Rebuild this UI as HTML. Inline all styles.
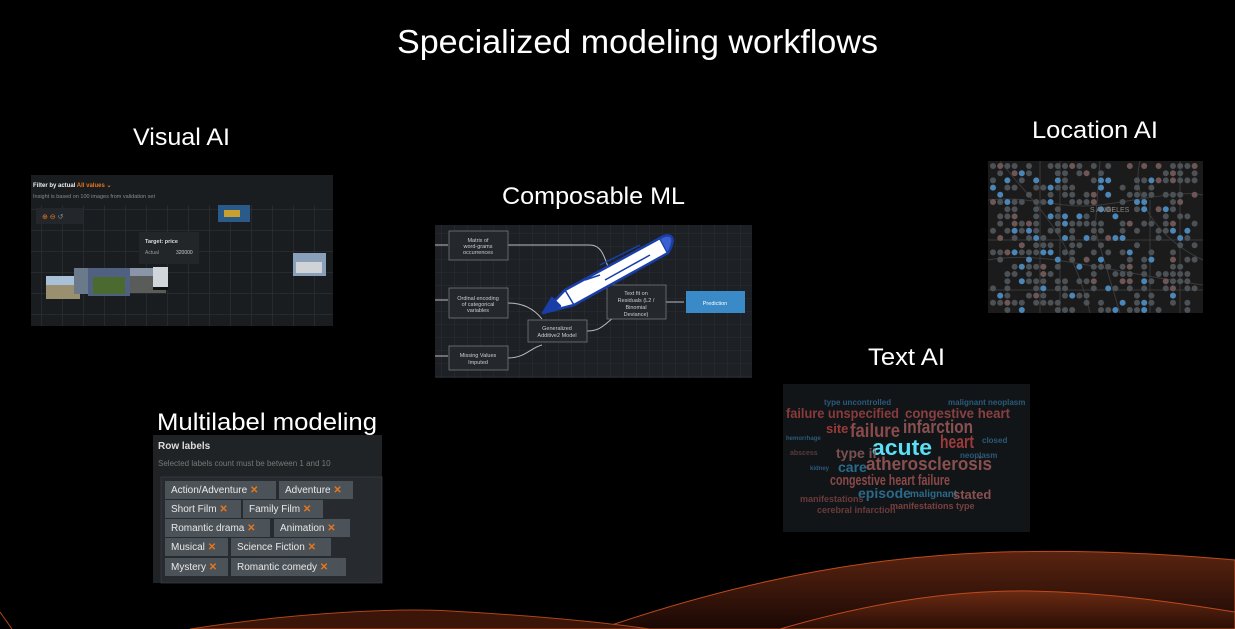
<!DOCTYPE html>
<html><head><meta charset="utf-8"><style>
html,body{margin:0;padding:0;background:#000;width:1235px;height:629px;overflow:hidden}
svg{display:block}
text{font-family:"Liberation Sans",sans-serif}
</style></head><body>
<svg id="s" width="1235" height="629" viewBox="0 0 1235 629" xmlns="http://www.w3.org/2000/svg">
<defs>
<pattern id="g1" width="21" height="21" patternUnits="userSpaceOnUse"><path d="M21 0V21M0 21H21" stroke="#33383d" stroke-width="1" fill="none"/></pattern>
<pattern id="g2" width="13" height="13" patternUnits="userSpaceOnUse"><path d="M13 0V13M0 13H13" stroke="#2c3136" stroke-width="1" fill="none"/></pattern>
<linearGradient id="w1" x1="0" y1="0" x2="0" y2="1"><stop offset="0" stop-color="#5a2410"/><stop offset="1" stop-color="#1a0804"/></linearGradient>
<linearGradient id="w2" x1="0" y1="0" x2="0" y2="1"><stop offset="0" stop-color="#6a2a12"/><stop offset="1" stop-color="#2a0e06"/></linearGradient>
</defs>
<rect width="1235" height="629" fill="#000"/>
<path d="M600 629 C800 560 950 548 1100 552 C1170 554 1210 558 1235 560 V629Z" fill="url(#w1)" stroke="#c04a1c" stroke-width="1"/>
<path d="M780 629 C880 600 960 590 1030 591 C1120 593 1190 605 1235 612 V629Z" fill="url(#w2)" stroke="#c04a1c" stroke-width="1"/>
<path d="M190 629 C300 612 400 608 450 611 C540 616 600 622 650 629Z" fill="#3a1508" stroke="#b0441a" stroke-width="1"/>
<path d="M0 612 L12 629" stroke="#b0441a"/>

<text x="397" y="53" font-size="33" fill="#fff" textLength="481" lengthAdjust="spacingAndGlyphs">Specialized modeling workflows</text>
<text x="133" y="145" font-size="24" fill="#fff" textLength="97" lengthAdjust="spacingAndGlyphs">Visual AI</text>
<text x="502" y="204" font-size="24" fill="#fff" textLength="183" lengthAdjust="spacingAndGlyphs">Composable ML</text>
<text x="1032" y="138" font-size="24" fill="#fff" textLength="126" lengthAdjust="spacingAndGlyphs">Location AI</text>
<text x="868" y="365" font-size="24" fill="#fff" textLength="77" lengthAdjust="spacingAndGlyphs">Text AI</text>

<rect x="31" y="175" width="302" height="151" fill="#1a1d20"/>
<rect x="31" y="205" width="302" height="121" fill="url(#g1)"/>
<text x="33" y="187" font-size="6" font-weight="bold" fill="#eee">Filter by actual <tspan fill="#e8761e">All values ⌄</tspan></text>
<text x="33" y="198" font-size="5.5" fill="#888">Insight is based on 100 images from validation set</text>
<rect x="36" y="208" width="47" height="16" fill="#23272b"/>
<text x="42" y="219" font-size="7" fill="#e8761e">⊕ ⊖ <tspan fill="#888">↺</tspan></text>
<rect x="218" y="205" width="32" height="17" fill="#2a5a8a"/><rect x="224" y="210" width="16" height="7" fill="#c8a030"/>
<rect x="139" y="232" width="60" height="32" fill="#222629"/>
<text x="145" y="243" font-size="5.5" font-weight="bold" fill="#ddd">Target: price</text>
<text x="145" y="254" font-size="5" fill="#999">Actual</text><text x="176" y="254" font-size="5" fill="#ccc">320000</text>
<rect x="293" y="253" width="33" height="23" fill="#8aa0b8"/><rect x="296" y="262" width="26" height="11" fill="#cfd3d6"/>
<rect x="46" y="276" width="34" height="23" fill="#9a9070"/><rect x="46" y="276" width="34" height="9" fill="#a8c0d8"/>
<rect x="74" y="268" width="38" height="26" fill="#6a7a8a"/>
<rect x="88" y="268" width="42" height="28" fill="#506080"/><rect x="93" y="277" width="32" height="17" fill="#4a6a30"/>
<rect x="130" y="268" width="36" height="25" fill="#5a5c5a"/><rect x="130" y="268" width="36" height="8" fill="#8a96a8"/>
<rect x="153" y="267" width="15" height="23" fill="#d0d6da"/>
<rect x="153" y="287" width="15" height="3" fill="#111"/>

<rect x="435" y="225" width="317" height="153" fill="#1d2024"/>
<rect x="435" y="225" width="317" height="153" fill="url(#g2)"/>
<g stroke="#bbb" stroke-width="1" fill="none">
<path d="M435 245H448M435 300H448M435 356H448"/>
<path d="M508 245H590C605 245 605 265 612 275"/>
<path d="M508 303C525 303 535 310 542 319"/>
<path d="M508 358C525 358 530 348 542 345"/>
<path d="M587 331C600 331 604 325 613 318"/>
<path d="M666 302H684"/>
</g>
<g fill="#24282c" stroke="#777" stroke-width="0.8">
<rect x="449" y="231" width="59" height="29"/>
<rect x="449" y="288" width="59" height="30"/>
<rect x="449" y="346" width="59" height="24"/>
<rect x="528" y="320" width="59" height="22"/>
<rect x="607" y="285" width="59" height="34"/>
</g>
<rect x="686" y="291" width="59" height="22" fill="#3a8ac8"/>
<g font-size="5.5" fill="#ccc" text-anchor="middle">
<text x="478" y="242">Matrix of</text><text x="478" y="248">word-grams</text><text x="478" y="254">occurrences</text>
<text x="478" y="300">Ordinal encoding</text><text x="478" y="306">of categorical</text><text x="478" y="312">variables</text>
<text x="478" y="357">Missing Values</text><text x="478" y="364">Imputed</text>
<text x="557" y="330">Generalized</text><text x="557" y="337">Additive2 Model</text>
<text x="636" y="295">Text fit on</text><text x="636" y="302">Residuals (L2 /</text><text x="636" y="309">Binomial</text><text x="636" y="316">Deviance)</text>
<text x="715" y="305" fill="#fff">Prediction</text>
</g>
<g stroke="#1a3ea8" stroke-width="2.5" stroke-linejoin="round">
<path d="M543 313 L565 290 L660 238 L668 253 L574 305 Z" fill="#fff"/>
<path d="M660 238 C670 232 678 236 668 253" fill="#3a60d0"/>
<path d="M565 290 L574 305 M585 280 L600 275 M600 265 L640 245 M605 280 L650 255" fill="none" stroke-width="1.5"/>
<path d="M543 313 L552 298 L560 306Z" fill="#1a3ea8"/>
</g>

<rect x="988" y="161" width="215" height="152" fill="#1b1b1b"/>
<g stroke="#3a3a3a" stroke-width="1" fill="none">
<path d="M988 200 C1030 195 1060 210 1100 205 S1180 190 1203 195"/>
<path d="M1000 161 C1030 200 1070 230 1090 313"/>
<path d="M1100 161 L1095 230 L1120 313"/>
<path d="M1140 161 C1130 200 1160 240 1203 260"/>
<path d="M988 260 C1040 250 1100 270 1203 285"/>
<path d="M1040 161 V313 M1060 161 V313 M1150 200 V313 M1180 161 V313 M988 240 H1203 M988 290 H1203"/>
</g>
<g id="dots"></g>
<text x="1090" y="212" font-size="7" fill="#888">S ANGELES</text>

<rect x="783" y="384" width="247" height="148" fill="#121518"/>
<g font-family="'Liberation Sans Narrow','Liberation Sans',sans-serif" font-weight="bold">
<text x="786" y="418" font-size="14" fill="#8a3a3a" textLength="113" lengthAdjust="spacingAndGlyphs">failure unspecified</text>
<text x="905" y="418" font-size="14" fill="#8a4040" textLength="105" lengthAdjust="spacingAndGlyphs">congestive heart</text>
<text x="826" y="433" font-size="13" fill="#9a3a3a">site</text>
<text x="850" y="437" font-size="19" fill="#8a4a4a" textLength="50" lengthAdjust="spacingAndGlyphs">failure</text>
<text x="903" y="433" font-size="18" fill="#8a5050" textLength="70" lengthAdjust="spacingAndGlyphs">infarction</text>
<text x="940" y="448" font-size="18" fill="#9a3a3a" textLength="34" lengthAdjust="spacingAndGlyphs">heart</text>
<text x="872" y="455" font-size="22" fill="#5ae0f5" textLength="60" lengthAdjust="spacingAndGlyphs">acute</text>
<text x="836" y="458" font-size="14" fill="#7a5050">type ii</text>
<text x="866" y="470" font-size="18" fill="#8a5050" textLength="126" lengthAdjust="spacingAndGlyphs">atherosclerosis</text>
<text x="838" y="472" font-size="14" fill="#2a6a8a">care</text>
<text x="830" y="485" font-size="15" fill="#8a4848" textLength="120" lengthAdjust="spacingAndGlyphs">congestive heart failure</text>
<text x="858" y="498" font-size="14" fill="#2a6a8a">episode</text>
<text x="910" y="497" font-size="10" fill="#2a6a8a">malignant</text>
<text x="953" y="499" font-size="13" fill="#8a5050">stated</text>
<text x="800" y="502" font-size="9" fill="#6a3a3a">manifestations</text>
<text x="890" y="509" font-size="9" fill="#7a4040">manifestations type</text>
<text x="817" y="513" font-size="9" fill="#6a3a3a">cerebral infarction</text>
<text x="824" y="405" font-size="8" fill="#2a5a7a">type uncontrolled</text>
<text x="948" y="405" font-size="8" fill="#2a5a7a">malignant neoplasm</text>
<text x="982" y="443" font-size="8" fill="#2a5a7a">closed</text>
<text x="960" y="458" font-size="8" fill="#2a5a7a">neoplasm</text>
<text x="786" y="440" font-size="6" fill="#2a5a7a">hemorrhage</text>
<text x="790" y="455" font-size="7" fill="#5a3a3a">abscess</text>
<text x="810" y="470" font-size="6" fill="#2a5a7a">kidney</text>
</g>

<rect x="153" y="435" width="229" height="148" fill="#1f2326"/>
<text x="157" y="430" font-size="24" fill="#fff" textLength="220" lengthAdjust="spacingAndGlyphs">Multilabel modeling</text>
<text x="158" y="449" font-size="10" font-weight="bold" fill="#ddd">Row labels</text>
<text x="158" y="466" font-size="8" fill="#777">Selected labels count must be between 1 and 10</text>
<rect x="161" y="477" width="221" height="106" fill="#272b2f" stroke="#3c4146" stroke-width="0.7"/>
<g fill="#4c5358">
<rect x="165" y="481" width="111" height="18"/><rect x="279" y="481" width="74" height="18"/>
<rect x="165" y="500" width="76" height="18"/><rect x="243" y="500" width="80" height="18"/>
<rect x="165" y="519" width="105" height="18"/><rect x="274" y="519" width="76" height="18"/>
<rect x="165" y="538" width="63" height="18"/><rect x="231" y="538" width="100" height="18"/>
<rect x="165" y="558" width="63" height="18"/><rect x="231" y="558" width="115" height="18"/>
</g>
<g font-size="10" fill="#e8e8e8">
<text x="171" y="493">Action/Adventure <tspan fill="#e8761e" font-weight="bold">✕</tspan></text>
<text x="285" y="493">Adventure <tspan fill="#e8761e" font-weight="bold">✕</tspan></text>
<text x="171" y="512">Short Film <tspan fill="#e8761e" font-weight="bold">✕</tspan></text>
<text x="249" y="512">Family Film <tspan fill="#e8761e" font-weight="bold">✕</tspan></text>
<text x="171" y="531">Romantic drama <tspan fill="#e8761e" font-weight="bold">✕</tspan></text>
<text x="280" y="531">Animation <tspan fill="#e8761e" font-weight="bold">✕</tspan></text>
<text x="171" y="550">Musical <tspan fill="#e8761e" font-weight="bold">✕</tspan></text>
<text x="237" y="550">Science Fiction <tspan fill="#e8761e" font-weight="bold">✕</tspan></text>
<text x="171" y="570">Mystery <tspan fill="#e8761e" font-weight="bold">✕</tspan></text>
<text x="237" y="570">Romantic comedy <tspan fill="#e8761e" font-weight="bold">✕</tspan></text>
</g>
</svg>
<script>
(function(){var g=document.getElementById('dots'),ns='http://www.w3.org/2000/svg',seed=7;
function r(){seed=(seed*9301+49297)%233280;return seed/233280;}
for(var y=166;y<310;y+=7.2){for(var x=993;x<1200;x+=7.2){if(r()<0.5){var c=document.createElementNS(ns,'circle');c.setAttribute('cx',x.toFixed(1));c.setAttribute('cy',y.toFixed(1));c.setAttribute('r','3');var q=r();c.setAttribute('fill',q<0.15?'#4a86b8':(q<0.27?'#6e5656':'#4c5156'));g.appendChild(c);}}}})();
</script>
</body></html>
